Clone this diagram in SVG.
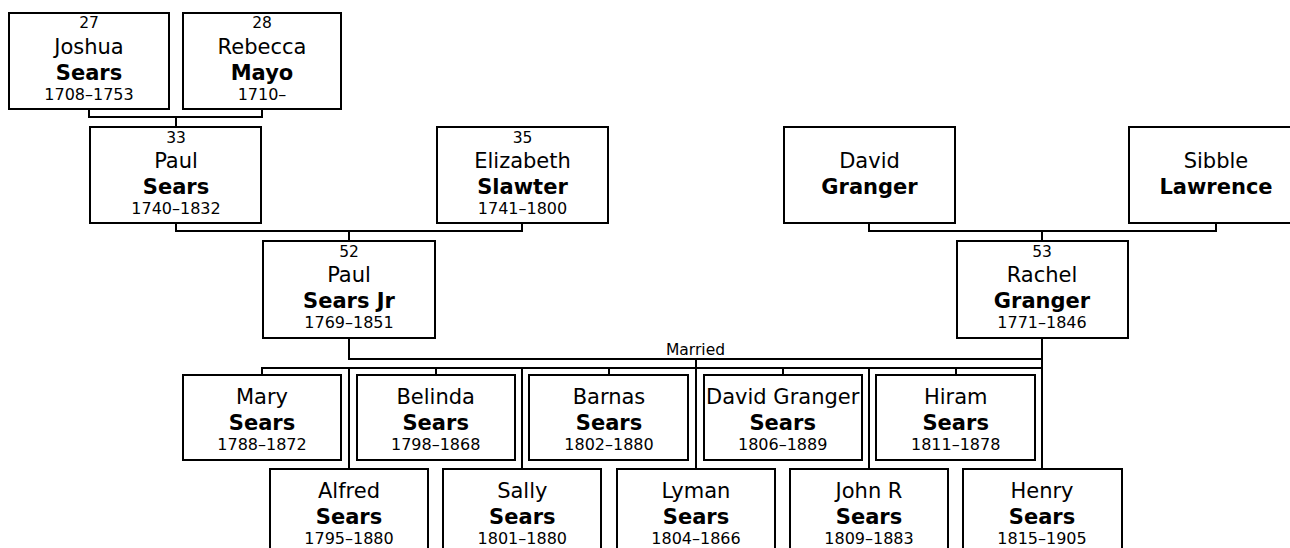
<svg xmlns="http://www.w3.org/2000/svg" width="1290" height="548" viewBox="0 0 1290 548">
<style>
rect.box{fill:#fff;stroke:#000;stroke-width:2}
.c{fill:none;stroke:#000;stroke-width:2}
text{font-family:"DejaVu Sans",Verdana,sans-serif;text-anchor:middle;fill:#000}
.n{font-size:15.5px}
.g{font-size:21px}
.s{font-size:21px;font-weight:bold}
.d{font-size:16px}
</style>
<rect width="1290" height="548" fill="#fff"/>
<g id="connectors">
<path class="c" d="M89,110 V117 H262 V110 M176,117 V126"/>
<path class="c" d="M176,224 V231 H522 V224 M349,231 V240"/>
<path class="c" d="M869,224 V231 H1216 V224 M1042,231 V240"/>
<path class="c" d="M349,339 V359 H1042 V339"/>
<path class="c" d="M1042,359 V468 M696,359 V468"/>
<path class="c" d="M262,374 V368 H1042 M436,368 V374 M609,368 V374 M783,368 V374 M956,368 V374"/>
<path class="c" d="M349,368 V468 M522,368 V468 M869,368 V468"/>
<text class="n" x="695.5" y="355">Married</text>
</g>
<g id="p27"><rect class="box" x="9" y="13" width="160" height="96"/><text class="n" x="89" y="27.5">27</text><text class="g" x="89" y="54">Joshua</text><text class="s" x="89" y="80">Sears</text><text class="d" x="89" y="100">1708–1753</text></g>
<g id="p28"><rect class="box" x="183" y="13" width="158" height="96"/><text class="n" x="262" y="27.5">28</text><text class="g" x="262" y="54">Rebecca</text><text class="s" x="262" y="80">Mayo</text><text class="d" x="262" y="100">1710–</text></g>
<g id="p33"><rect class="box" x="90" y="127" width="171" height="96"/><text class="n" x="176" y="142.5">33</text><text class="g" x="176" y="168">Paul</text><text class="s" x="176" y="194">Sears</text><text class="d" x="176" y="214">1740–1832</text></g>
<g id="p35"><rect class="box" x="437" y="127" width="171" height="96"/><text class="n" x="522.5" y="142.5">35</text><text class="g" x="522.5" y="168">Elizabeth</text><text class="s" x="522.5" y="194">Slawter</text><text class="d" x="522.5" y="214">1741–1800</text></g>
<g id="david"><rect class="box" x="784" y="127" width="171" height="96"/><text class="g" x="869.5" y="168">David</text><text class="s" x="869.5" y="194">Granger</text></g>
<g id="sibble"><rect class="box" x="1129" y="127" width="172" height="96"/><text class="g" x="1216" y="168">Sibble</text><text class="s" x="1216" y="194">Lawrence</text></g>
<g id="p52"><rect class="box" x="263" y="241" width="172" height="97"/><text class="n" x="349" y="256.5">52</text><text class="g" x="349" y="282">Paul</text><text class="s" x="349" y="308">Sears Jr</text><text class="d" x="349" y="328">1769–1851</text></g>
<g id="p53"><rect class="box" x="957" y="241" width="171" height="97"/><text class="n" x="1042" y="256.5">53</text><text class="g" x="1042" y="282">Rachel</text><text class="s" x="1042" y="308">Granger</text><text class="d" x="1042" y="328">1771–1846</text></g>
<g id="mary"><rect class="box" x="183" y="375" width="158" height="85"/><text class="g" x="262" y="404">Mary</text><text class="s" x="262" y="430">Sears</text><text class="d" x="262" y="450">1788–1872</text></g>
<g id="belinda"><rect class="box" x="357" y="375" width="158" height="85"/><text class="g" x="435.7" y="404">Belinda</text><text class="s" x="435.7" y="430">Sears</text><text class="d" x="435.7" y="450">1798–1868</text></g>
<g id="barnas"><rect class="box" x="529" y="375" width="159" height="85"/><text class="g" x="609" y="404">Barnas</text><text class="s" x="609" y="430">Sears</text><text class="d" x="609" y="450">1802–1880</text></g>
<g id="davidg"><rect class="box" x="704" y="375" width="158" height="85"/><text class="g" x="782.7" y="404">David Granger</text><text class="s" x="782.7" y="430">Sears</text><text class="d" x="782.7" y="450">1806–1889</text></g>
<g id="hiram"><rect class="box" x="876" y="375" width="159" height="85"/><text class="g" x="955.7" y="404">Hiram</text><text class="s" x="955.7" y="430">Sears</text><text class="d" x="955.7" y="450">1811–1878</text></g>
<g id="alfred"><rect class="box" x="270" y="469" width="158" height="85"/><text class="g" x="349" y="498">Alfred</text><text class="s" x="349" y="524">Sears</text><text class="d" x="349" y="543.5">1795–1880</text></g>
<g id="sally"><rect class="box" x="443" y="469" width="158" height="85"/><text class="g" x="522.3" y="498">Sally</text><text class="s" x="522.3" y="524">Sears</text><text class="d" x="522.3" y="543.5">1801–1880</text></g>
<g id="lyman"><rect class="box" x="617" y="469" width="158" height="85"/><text class="g" x="696" y="498">Lyman</text><text class="s" x="696" y="524">Sears</text><text class="d" x="696" y="543.5">1804–1866</text></g>
<g id="johnr"><rect class="box" x="790" y="469" width="158" height="85"/><text class="g" x="869" y="498">John R</text><text class="s" x="869" y="524">Sears</text><text class="d" x="869" y="543.5">1809–1883</text></g>
<g id="henry"><rect class="box" x="963" y="469" width="159" height="85"/><text class="g" x="1042" y="498">Henry</text><text class="s" x="1042" y="524">Sears</text><text class="d" x="1042" y="543.5">1815–1905</text></g>
</svg>
